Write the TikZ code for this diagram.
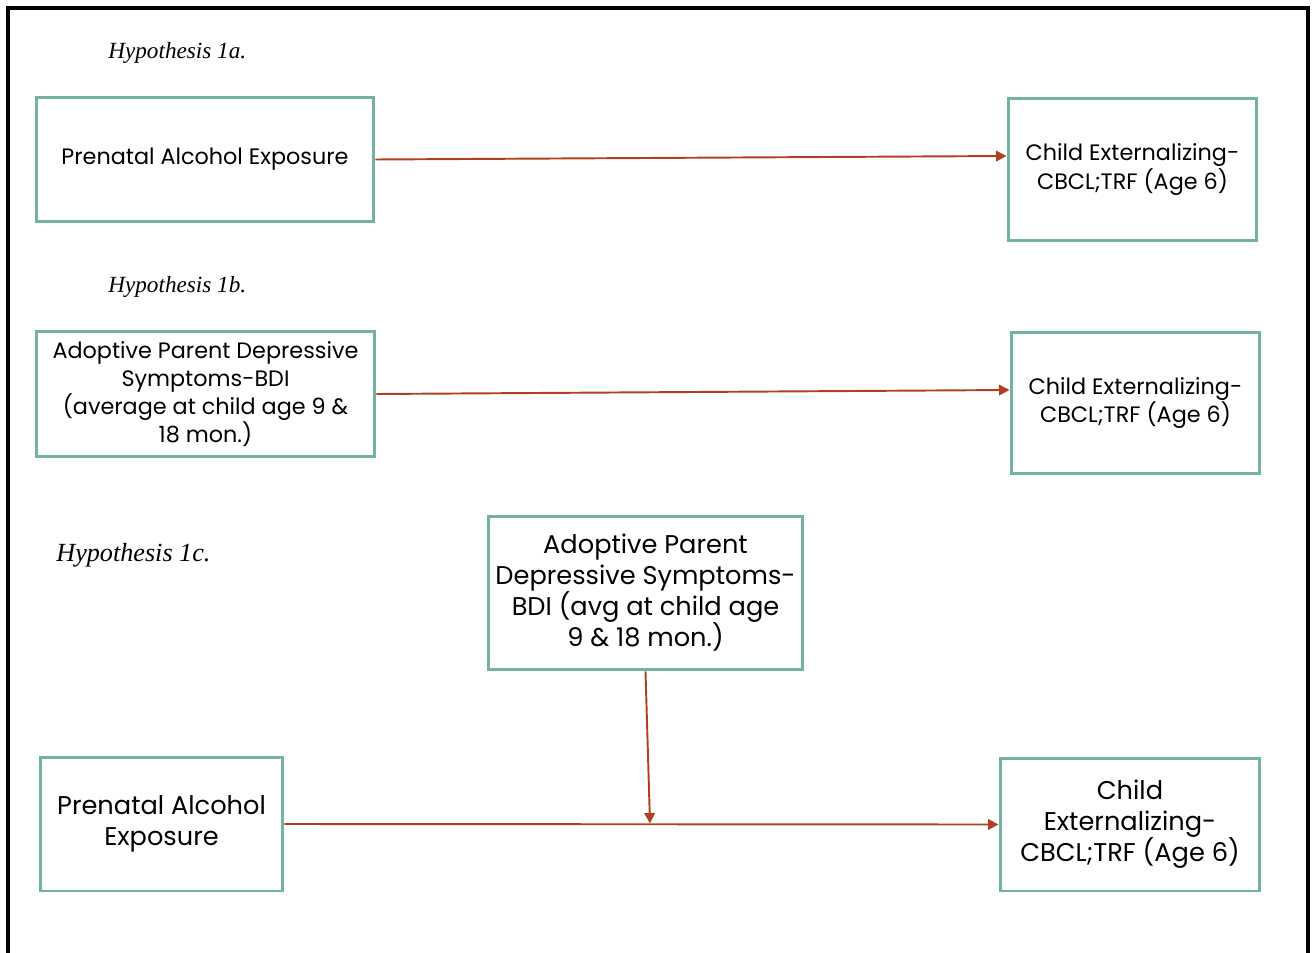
\documentclass[tikz,border=0pt]{standalone}
\usepackage{fontspec}
\setmainfont{Poppins}
\newfontfamily\hypfont{Liberation Serif}
\usetikzlibrary{arrows.meta}
\definecolor{boxgreen}{HTML}{74B49E}
\definecolor{arrowred}{HTML}{B0401F}

\begin{document}
\begin{tikzpicture}[x=0.02cm,y=-0.02cm,
                main/.style = {draw=boxgreen, line width=1.7pt, align=center, inner sep=2pt,
                               font=\fontsize{12.7}{16}\selectfont},
                big/.style = {main, font=\fontsize{14.6}{17.6}\selectfont},
                hyp/.style = {anchor=west, inner sep=0pt, font=\hypfont\itshape\fontsize{13.2}{15}\selectfont},
                link/.style = {draw=arrowred, line width=1.1pt, -{Triangle[length=6pt,width=6pt]}}]
                \useasboundingbox (0,0) rectangle (1315,953);
                \draw[line width=1.8pt] (8,953) -- (8,8) -- (1308,8) -- (1308,953);
                % Hypothesis 1a
                \node[hyp] (h1) at (108,53) {Hypothesis 1a.};
                \node[main, minimum width=6.76cm, minimum height=2.5cm] (1) at (205,159.5) {Prenatal Alcohol Exposure};
                \node[main, minimum width=4.98cm, minimum height=2.86cm] (2) at (1132.5,169.5) {Child Externalizing-\\CBCL;TRF (Age 6)};
                \draw[link] (1.east) -- ([yshift=0.27cm]2.west);
                % Hypothesis 1b
                \node[hyp] (h2) at (108,287) {Hypothesis 1b.};
                \node[main, minimum width=6.78cm, minimum height=2.52cm] (3) at (205.5,394) {Adoptive Parent Depressive\\Symptoms-BDI\\(average at child age 9 \&\\18 mon.)};
                \node[main, minimum width=4.98cm, minimum height=2.84cm] (4) at (1135.5,403) {Child Externalizing-\\CBCL;TRF (Age 6)};
                \draw[link] (3.east) -- ([yshift=0.26cm]4.west);
                % Hypothesis 1c
                \node[hyp, font=\hypfont\itshape\fontsize{14.9}{17}\selectfont] (h3) at (56,555) {Hypothesis 1c.};
                \node[big, minimum width=6.3cm, minimum height=3.08cm] (5) at (645.5,593) {Adoptive Parent\\Depressive Symptoms-\\BDI (avg at child age\\9 \& 18 mon.)};
                \node[big, minimum width=4.86cm, minimum height=2.68cm] (6) at (161.5,824) {Prenatal Alcohol\\Exposure};
                \node[big, minimum width=5.2cm, minimum height=2.66cm] (7) at (1130,824.5) {Child\\Externalizing-\\CBCL;TRF (Age 6)};
                \coordinate (m) at (650,823.5);
                \draw[link] (6.east) -- (7.west);
                \draw[link] (5.south) -- (m);
\end{tikzpicture}
\end{document}
